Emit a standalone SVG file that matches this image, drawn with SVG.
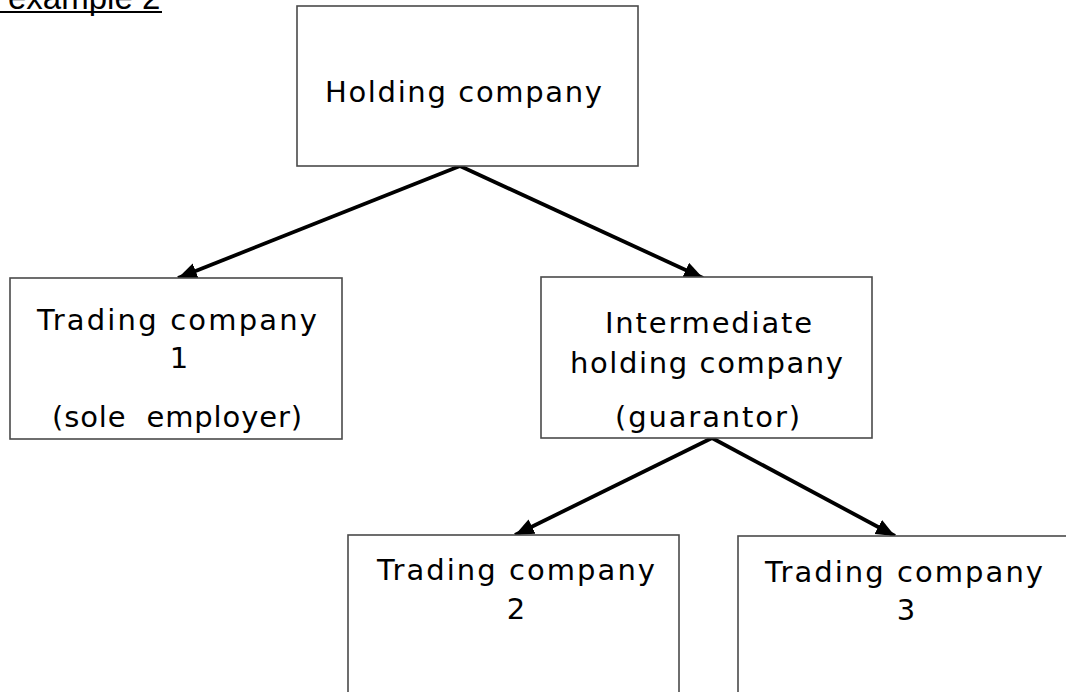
<svg xmlns="http://www.w3.org/2000/svg" width="1066" height="692" viewBox="0 0 1066 692">
  <style>
    .box { fill: #ffffff; stroke: #4a4a4a; stroke-width: 1.6; }
    .lbl { font-family: "DejaVu Sans", Verdana, sans-serif; font-size: 29px; fill: #000000; text-anchor: middle; }
    .edge { stroke: #000000; stroke-width: 3.8; fill: none; marker-end: url(#arrow); }
    .title { font-family: "Liberation Sans", Arial, sans-serif; font-size: 33px; fill: #000000; }
  </style>
  <defs>
    <marker id="arrow" markerUnits="userSpaceOnUse" markerWidth="22" markerHeight="18" refX="19" refY="8" orient="auto">
      <path d="M0,0 L19,8 L0,16 Z" fill="#000000"/>
    </marker>
  </defs>
  <rect width="1066" height="692" fill="#ffffff"/>

  <!-- heading -->
  <g id="heading">
    <text class="title" x="8" y="8.5">example 2</text>
    <line x1="0" y1="12" x2="162" y2="12" stroke="#000000" stroke-width="2"/>
  </g>

  <!-- ownership links -->
  <g id="connectors">
    <line class="edge" x1="460" y1="166" x2="178" y2="278"/>
    <line class="edge" x1="460" y1="166" x2="703" y2="278"/>
    <line class="edge" x1="712" y1="438" x2="515" y2="535"/>
    <line class="edge" x1="712" y1="438" x2="895" y2="536"/>
  </g>

  <g id="holding">
    <rect class="box" x="297" y="6" width="341" height="160"/>
    <text class="lbl" x="463.5" y="102" textLength="277" lengthAdjust="spacing">Holding company</text>
  </g>

  <g id="trading1">
    <rect class="box" x="10" y="278" width="332" height="161"/>
    <text class="lbl" x="177" y="330" textLength="280" lengthAdjust="spacing">Trading company</text>
    <text class="lbl" x="179" y="368">1</text>
    <text class="lbl" x="177" y="427" textLength="250" lengthAdjust="spacing" style="white-space:pre">(sole  employer)</text>
  </g>

  <g id="intermediate">
    <rect class="box" x="541" y="277" width="331" height="161"/>
    <text class="lbl" x="708.5" y="333" textLength="207" lengthAdjust="spacing">Intermediate</text>
    <text class="lbl" x="706.5" y="373" textLength="273" lengthAdjust="spacing">holding company</text>
    <text class="lbl" x="707.5" y="427" textLength="185" lengthAdjust="spacing">(guarantor)</text>
  </g>

  <g id="trading2">
    <rect class="box" x="348" y="535" width="331" height="170"/>
    <text class="lbl" x="516" y="580" textLength="278" lengthAdjust="spacing">Trading company</text>
    <text class="lbl" x="516" y="619">2</text>
  </g>

  <g id="trading3">
    <rect class="box" x="738" y="536" width="340" height="170"/>
    <text class="lbl" x="904" y="582" textLength="278" lengthAdjust="spacing">Trading company</text>
    <text class="lbl" x="906" y="620">3</text>
  </g>
</svg>
